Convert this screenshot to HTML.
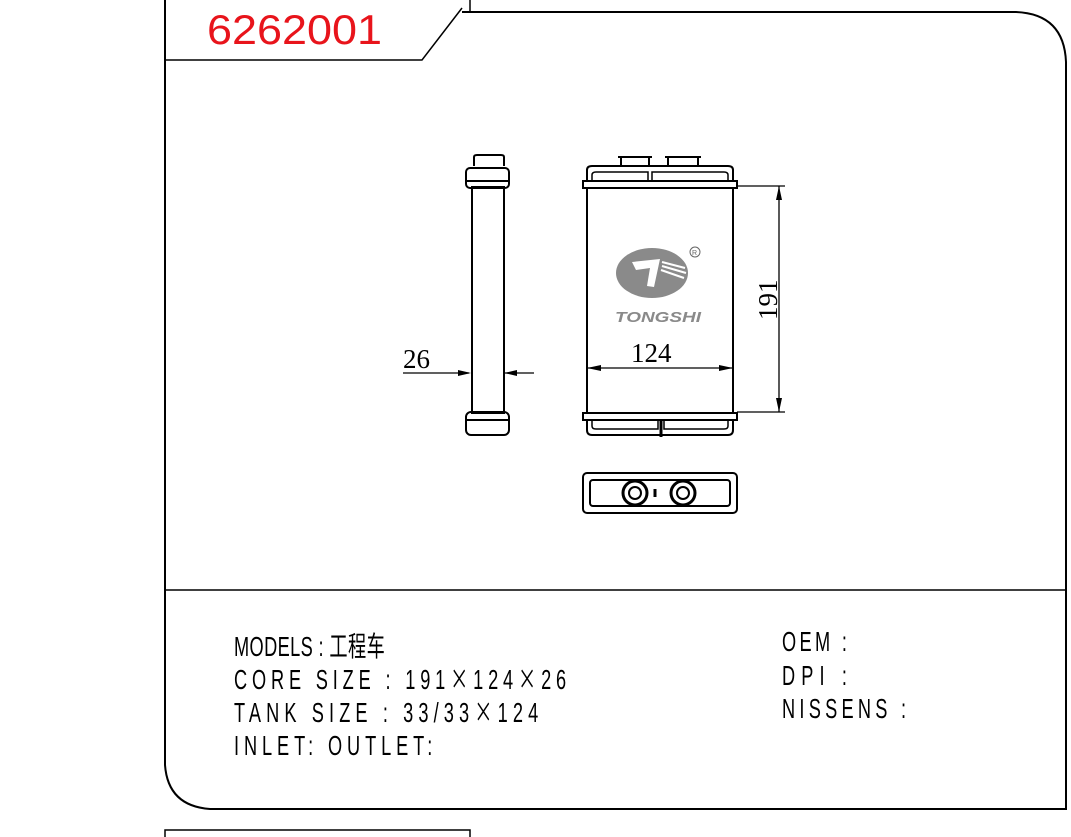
<!DOCTYPE html>
<html><head><meta charset="utf-8"><style>
html,body{margin:0;padding:0;background:#fff;}
svg{display:block;}
</style></head><body>
<svg width="1071" height="837" viewBox="0 0 1071 837" xmlns="http://www.w3.org/2000/svg">
<g fill="none" stroke="#000" stroke-width="2">
<path d="M165 0 V765 Q168 806 210 809 H1066 V62 Q1064 14 1016 12 H462"/>
<path d="M165 60 H422 L462 8" stroke-width="1.5"/>
<path d="M470 0 V12" stroke-width="1.5"/>
<path d="M165 590 H1066" stroke-width="1.5"/>
<path d="M165 837 V830 H470 V837" stroke-width="1.5"/>
</g>
<text x="207" y="44" font-family="Liberation Sans, sans-serif" font-size="42" fill="#e8141b" textLength="175" lengthAdjust="spacingAndGlyphs">6262001</text>

<g fill="none" stroke="#000" stroke-width="2">
<rect x="472" y="187" width="32" height="226"/>
<path d="M474 166 V157 Q474 155 477 155 H501 Q504 155 504 157 V166"/>
<rect x="466" y="168" width="43" height="20" rx="4"/>
<path d="M466 181 H509"/>
<rect x="466" y="412" width="43" height="23" rx="5"/>
<path d="M466 420 H509"/>
<rect x="583" y="181" width="154" height="7"/>
<rect x="583" y="413" width="154" height="7"/>
<path d="M587 188 V413 M733 188 V413"/>
<path d="M587 181 V170 Q587 166 592 166 H728 Q733 166 733 170 V181"/>
<path d="M592 181 V175 Q592 172 596 172 H648 V181 M652 181 V172 H724 Q728 172 728 175 V181" stroke-width="1.5"/>
<path d="M621 166 V157 H649 V166 M668 166 V157 H698 V166"/>
<path d="M618 157 H652 M665 157 H701"/>
<path d="M587 420 V430 Q587 435 592 435 H728 Q733 435 733 430 V420"/>
<path d="M592 420 V426 Q592 429 596 429 H658 V420 M664 420 V429 H724 Q728 429 728 426 V420" stroke-width="1.5"/>
<path d="M661 420 V437" stroke-width="3"/>
<rect x="583" y="473" width="154" height="40" rx="4"/>
<rect x="590" y="480" width="140" height="26" rx="3"/>
<circle cx="635" cy="493" r="12" stroke-width="3"/>
<circle cx="635" cy="493" r="6"/>
<circle cx="683" cy="493" r="12" stroke-width="3"/>
<circle cx="683" cy="493" r="6"/>
<path d="M655 489 V497" stroke-width="3"/>
</g>

<g stroke="#000" stroke-width="1.3" fill="none">
<path d="M737 186 H785 M737 412 H785 M779 186 V412"/>
<path d="M587 368 H733"/>
<path d="M403 373 H469 M505 373 H534"/>
</g>
<g fill="#000">
<path d="M779 186 L776 200 L782 200Z M779 412 L776 398 L782 398Z"/>
<path d="M587 368 L601 365 L601 371Z M733 368 L719 365 L719 371Z"/>
<path d="M471 373 L458 370 L458 376Z M504 373 L517 370 L517 376Z"/>
</g>
<g font-family="Liberation Serif, serif" font-size="27" fill="#000">
<text x="631" y="362">124</text>
<text x="403" y="368">26</text>
<text transform="translate(777,320) rotate(-90)">191</text>
</g>

<g>
<ellipse cx="652" cy="273" rx="36" ry="25" fill="#8a8a8a"/>
<path d="M632 262 L660 259 L654 287 L647 286 L650 268 L636 270Z" fill="#fff"/>
<path d="M662 262 L685 268 M662 266 L686 273 M661 270 L684 278" stroke="#fff" stroke-width="2"/>
<circle cx="695" cy="252" r="5" fill="none" stroke="#666" stroke-width="1"/>
<text x="692" y="255" font-family="Liberation Sans, sans-serif" font-size="7" fill="#666">R</text>
<text x="615" y="322" font-family="Liberation Sans, sans-serif" font-size="15" font-weight="bold" font-style="italic" fill="#8a8a8a" textLength="86" lengthAdjust="spacingAndGlyphs">TONGSHI</text>
</g>

<g font-family="Liberation Sans, 'Noto Sans CJK SC', sans-serif" font-size="28" fill="#000" transform="scale(0.65,1)">
<text x="360" y="656" textLength="232" lengthAdjust="spacing">MODELS : 工程车</text>
<text x="360" y="689" textLength="511" lengthAdjust="spacing">CORE SIZE : 191<tspan font-family="Noto Sans CJK SC, sans-serif">×</tspan>124<tspan font-family="Noto Sans CJK SC, sans-serif">×</tspan>26</text>
<text x="360" y="722" textLength="468" lengthAdjust="spacing">TANK SIZE : 33/33<tspan font-family="Noto Sans CJK SC, sans-serif">×</tspan>124</text>
<text x="360" y="755" textLength="305" lengthAdjust="spacing">INLET:  OUTLET:</text>
<text x="1203" y="651" textLength="100" lengthAdjust="spacing">OEM :</text>
<text x="1203" y="685" textLength="100" lengthAdjust="spacing">DPI :</text>
<text x="1203" y="718" textLength="191" lengthAdjust="spacing">NISSENS :</text>
</g>
</svg>
</body></html>
